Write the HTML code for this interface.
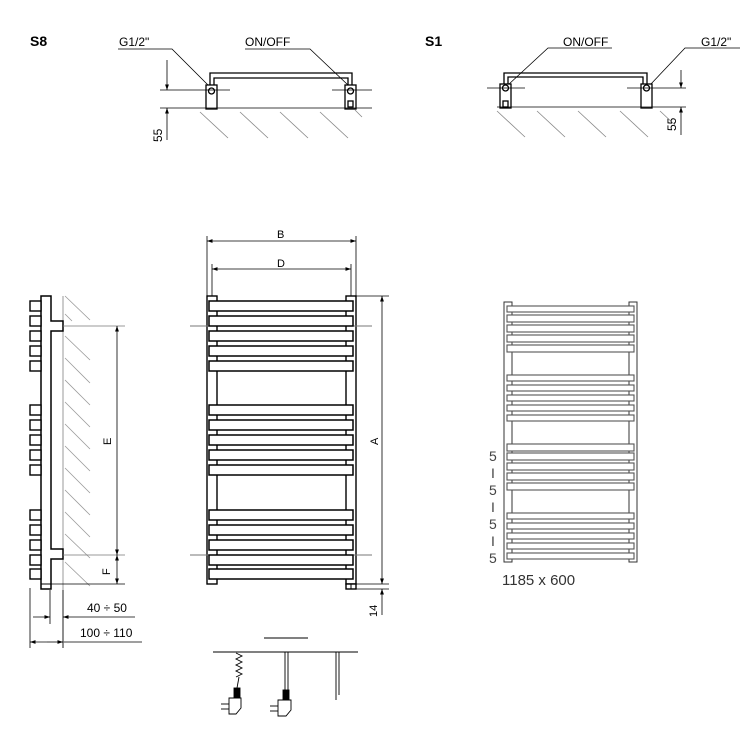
<!DOCTYPE html>
<html><head><meta charset="utf-8"><style>
html,body{margin:0;padding:0;background:#fff;width:750px;height:750px;overflow:hidden}
text{font-family:"Liberation Sans","DejaVu Sans",sans-serif}
</style></head><body>
<svg width="750" height="750" viewBox="0 0 750 750" xmlns="http://www.w3.org/2000/svg">
<defs>
<marker id="ar" viewBox="0 0 10 10" refX="10" refY="5" markerWidth="7" markerHeight="7" orient="auto-start-reverse"><path d="M0,1.5 L10,5 L0,8.5z" fill="#000"/></marker>
</defs>

<!-- ===== S8 ===== -->
<text x="30" y="46" font-size="14" font-weight="bold">S8</text>
<text x="119" y="46" font-size="12">G1/2"</text>
<text x="245" y="46" font-size="12">ON/OFF</text>
<polyline points="118,49 172,49 210,87" fill="none" stroke="#000" stroke-width="0.8"/>
<polyline points="245,49 310,49 348,85" fill="none" stroke="#000" stroke-width="0.8"/>
<g stroke="#000" fill="none" stroke-width="1.3">
<path d="M210,86 V73 H352 V86"/><path d="M214,86 V78 H348 V86"/>
<rect x="206" y="85" width="11" height="24" fill="#fff"/>
<rect x="345" y="85" width="11" height="24" fill="#fff"/>
<circle cx="211.5" cy="91" r="3"/><circle cx="350.5" cy="91" r="3"/>
<rect x="348" y="101" width="5" height="6"/>
</g>
<g stroke="#000" stroke-width="0.8">
<line x1="160" y1="90" x2="230" y2="90"/><line x1="332" y1="90" x2="372" y2="90"/>
<line x1="160" y1="108" x2="372" y2="108"/>
<line x1="167" y1="60" x2="167" y2="90" marker-end="url(#ar)"/>
<line x1="167" y1="140" x2="167" y2="108" marker-end="url(#ar)"/>
</g>
<g stroke="#888" stroke-width="0.8">
<line x1="200" y1="112" x2="228" y2="138"/><line x1="240" y1="112" x2="268" y2="138"/><line x1="280" y1="112" x2="308" y2="138"/><line x1="320" y1="112" x2="348" y2="138"/><line x1="355" y1="110" x2="362" y2="117"/>
</g>
<text transform="translate(162,142) rotate(-90)" font-size="12">55</text>

<!-- ===== S1 ===== -->
<text x="425" y="46" font-size="14" font-weight="bold">S1</text>
<text x="563" y="46" font-size="12">ON/OFF</text>
<text x="701" y="46" font-size="12">G1/2"</text>
<polyline points="612,48 548,48 508,85" fill="none" stroke="#000" stroke-width="0.8"/>
<polyline points="740,48 685,48 650,85" fill="none" stroke="#000" stroke-width="0.8"/>
<g stroke="#000" fill="none" stroke-width="1.3">
<path d="M504,86 V73 H647 V86"/><path d="M508,86 V77 H643 V86"/>
<rect x="500" y="84" width="11" height="24" fill="#fff"/>
<rect x="641" y="84" width="11" height="24" fill="#fff"/>
<circle cx="505.5" cy="88" r="3"/><circle cx="646.5" cy="88" r="3"/>
<rect x="503" y="101" width="5" height="6"/>
</g>
<g stroke="#000" stroke-width="0.8">
<line x1="487" y1="88" x2="525" y2="88"/><line x1="627" y1="88" x2="686" y2="88"/>
<line x1="497" y1="107" x2="686" y2="107"/>
<line x1="681" y1="70" x2="681" y2="88" marker-end="url(#ar)"/>
<line x1="681" y1="135" x2="681" y2="107" marker-end="url(#ar)"/>
</g>
<g stroke="#888" stroke-width="0.8">
<line x1="497" y1="111" x2="525" y2="137"/><line x1="537" y1="111" x2="565" y2="137"/><line x1="578" y1="111" x2="606" y2="137"/><line x1="620" y1="111" x2="648" y2="137"/><line x1="660" y1="111" x2="675" y2="125"/>
</g>
<text transform="translate(676,131) rotate(-90)" font-size="12">55</text>

<!-- ===== Side view ===== -->
<line x1="63" y1="296" x2="63" y2="648" stroke="#999" stroke-width="1"/>
<g stroke="#999" stroke-width="0.8">
<line x1="65" y1="296" x2="90" y2="320"/><line x1="65" y1="336" x2="90" y2="360"/><line x1="65" y1="358" x2="90" y2="383"/><line x1="65" y1="380" x2="90" y2="405"/><line x1="65" y1="402" x2="90" y2="427"/><line x1="65" y1="424" x2="90" y2="449"/><line x1="65" y1="446" x2="90" y2="471"/><line x1="65" y1="468" x2="90" y2="493"/><line x1="65" y1="490" x2="90" y2="515"/><line x1="65" y1="512" x2="90" y2="537"/><line x1="65" y1="534" x2="90" y2="558"/><line x1="65" y1="562" x2="90" y2="586"/><line x1="65" y1="314" x2="72" y2="321"/>
</g>
<path d="M41,296 H51 V321 H63 V331 H51 V549 H63 V559 H51 V589 H41 Z" fill="#fff" stroke="#000" stroke-width="1.5"/>
<line x1="41" y1="584" x2="51" y2="584" stroke="#000" stroke-width="1"/>
<g fill="#fff" stroke="#000" stroke-width="1.4">
<rect x="30" y="301" width="11" height="10"/><rect x="30" y="316" width="11" height="10"/><rect x="30" y="331" width="11" height="10"/><rect x="30" y="346" width="11" height="10"/><rect x="30" y="361" width="11" height="10"/>
<rect x="30" y="405" width="11" height="10"/><rect x="30" y="420" width="11" height="10"/><rect x="30" y="435" width="11" height="10"/><rect x="30" y="450" width="11" height="10"/><rect x="30" y="465" width="11" height="10"/>
<rect x="30" y="510" width="11" height="10"/><rect x="30" y="525" width="11" height="10"/><rect x="30" y="540" width="11" height="10"/><rect x="30" y="555" width="11" height="10"/><rect x="30" y="569" width="11" height="10"/>
</g>
<g stroke="#000" stroke-width="0.8">
<line x1="63" y1="326" x2="125" y2="326" stroke="#777"/><line x1="63" y1="555" x2="125" y2="555" stroke="#777"/><line x1="51" y1="584" x2="125" y2="584"/>
<line x1="117" y1="441" x2="117" y2="326" marker-end="url(#ar)"/><line x1="117" y1="441" x2="117" y2="555" marker-end="url(#ar)"/>
<line x1="117" y1="570" x2="117" y2="555" marker-end="url(#ar)"/><line x1="117" y1="570" x2="117" y2="584" marker-end="url(#ar)"/>
<line x1="30" y1="588" x2="30" y2="648"/><line x1="50" y1="590" x2="50" y2="624"/><line x1="63" y1="590" x2="63" y2="648"/>
<line x1="33" y1="617" x2="50" y2="617" marker-end="url(#ar)"/>
<line x1="135" y1="617" x2="63" y2="617" marker-end="url(#ar)"/>
<line x1="47" y1="642" x2="30" y2="642" marker-end="url(#ar)"/>
<line x1="47" y1="642" x2="63" y2="642" marker-end="url(#ar)"/>
<line x1="63" y1="642" x2="142" y2="642" stroke="#666" stroke-width="1.2"/>
</g>
<text transform="translate(111,445) rotate(-90)" font-size="11">E</text>
<text transform="translate(110,575) rotate(-90)" font-size="11">F</text>
<text x="87" y="612" font-size="12">40 ÷ 50</text>
<text x="80" y="637" font-size="12">100 ÷ 110</text>

<!-- ===== Front view ===== -->
<g stroke="#000" stroke-width="0.8">
<line x1="207" y1="236" x2="207" y2="296"/><line x1="356" y1="236" x2="356" y2="296"/>
<line x1="212" y1="264" x2="212" y2="300"/><line x1="351" y1="264" x2="351" y2="300"/>
<line x1="207" y1="241" x2="356" y2="241" marker-start="url(#ar)" marker-end="url(#ar)"/>
<line x1="212" y1="269" x2="351" y2="269" marker-start="url(#ar)" marker-end="url(#ar)"/>
<line x1="356" y1="296" x2="389" y2="296"/><line x1="356" y1="584" x2="389" y2="584"/><line x1="356" y1="589" x2="389" y2="589"/>
<line x1="382" y1="296" x2="382" y2="584" marker-start="url(#ar)" marker-end="url(#ar)"/>
<line x1="382" y1="615" x2="382" y2="589" marker-end="url(#ar)"/>
</g>
<text x="277" y="238" font-size="11">B</text>
<text x="277" y="267" font-size="11">D</text>
<text transform="translate(378,445) rotate(-90)" font-size="11">A</text>
<text transform="translate(377,617) rotate(-90)" font-size="11">14</text>
<g fill="#fff" stroke="#000" stroke-width="1.4">
<rect x="207" y="296" width="10" height="288"/>
<rect x="346" y="296" width="10" height="288"/>
<rect x="346" y="584" width="10" height="5"/>
</g>
<line x1="351" y1="584" x2="351" y2="589" stroke="#000"/>
<g stroke="#777" stroke-width="1">
<line x1="190" y1="326" x2="372" y2="326"/><line x1="190" y1="555" x2="372" y2="555"/>
</g>
<g fill="#fff" stroke="#000" stroke-width="1.5">
<rect x="209" y="301" width="144" height="10"/><rect x="209" y="316" width="144" height="10"/><rect x="209" y="331" width="144" height="10"/><rect x="209" y="346" width="144" height="10"/><rect x="209" y="361" width="144" height="10"/>
<rect x="209" y="405" width="144" height="10"/><rect x="209" y="420" width="144" height="10"/><rect x="209" y="435" width="144" height="10"/><rect x="209" y="450" width="144" height="10"/><rect x="209" y="465" width="144" height="10"/>
<rect x="209" y="510" width="144" height="10"/><rect x="209" y="525" width="144" height="10"/><rect x="209" y="540" width="144" height="10"/><rect x="209" y="555" width="144" height="10"/><rect x="209" y="569" width="144" height="10"/>
</g>

<!-- ===== Cables ===== -->
<g stroke="#000" stroke-width="0.9" fill="none">
<line x1="264" y1="638" x2="308" y2="638"/>
<line x1="213" y1="652" x2="358" y2="652"/>
<path d="M236,653 L242,656 L236,659 L242,662 L236,665 L242,668 L236,671 L242,674 L236,677"/>
<line x1="239" y1="677" x2="237" y2="688"/>
<line x1="285" y1="652" x2="285" y2="690"/><line x1="288" y1="652" x2="288" y2="690"/>
<line x1="336" y1="652" x2="336" y2="700"/><line x1="339" y1="652" x2="339" y2="695"/>
<rect x="234" y="688" width="6" height="10" fill="#000"/>
<rect x="283" y="690" width="6" height="10" fill="#000"/>
<path d="M229,698 H241 V708 L236,714 H229 Z" fill="#fff"/>
<path d="M278,700 H291 V710 L286,716 H278 Z" fill="#fff"/>
<line x1="221" y1="704" x2="229" y2="704"/><line x1="221" y1="709" x2="229" y2="709"/>
<line x1="270" y1="706" x2="278" y2="706"/><line x1="270" y1="711" x2="278" y2="711"/>
</g>

<!-- ===== Right panel ===== -->
<g fill="#fff" stroke="#333" stroke-width="1">
<rect x="504" y="302" width="8" height="260"/>
<rect x="629" y="302" width="8" height="260"/>
</g>
<g fill="#fff" stroke="#555" stroke-width="1.1">
<rect x="507" y="306" width="127" height="6"/><rect x="507" y="315" width="127" height="7"/><rect x="507" y="325" width="127" height="7"/><rect x="507" y="335" width="127" height="7"/><rect x="507" y="345" width="127" height="7"/>
<rect x="507" y="375" width="127" height="6"/><rect x="507" y="385" width="127" height="6"/><rect x="507" y="395" width="127" height="6"/><rect x="507" y="405" width="127" height="6"/><rect x="507" y="415" width="127" height="6"/>
<rect x="507" y="444" width="127" height="7"/><rect x="507" y="453" width="127" height="7"/><rect x="507" y="463" width="127" height="7"/><rect x="507" y="473" width="127" height="7"/><rect x="507" y="483" width="127" height="7"/>
<rect x="507" y="513" width="127" height="6"/><rect x="507" y="523" width="127" height="6"/><rect x="507" y="533" width="127" height="6"/><rect x="507" y="543" width="127" height="6"/><rect x="507" y="553" width="127" height="6"/>
</g>
<g font-size="14" fill="#444">
<text x="489" y="461">5</text><text x="491" y="478">I</text><text x="489" y="495">5</text><text x="491" y="512">I</text><text x="489" y="529">5</text><text x="491" y="546">I</text><text x="489" y="563">5</text>
</g>
<text x="502" y="585" font-size="15" fill="#333">1185 x 600</text>
</svg>
</body></html>
